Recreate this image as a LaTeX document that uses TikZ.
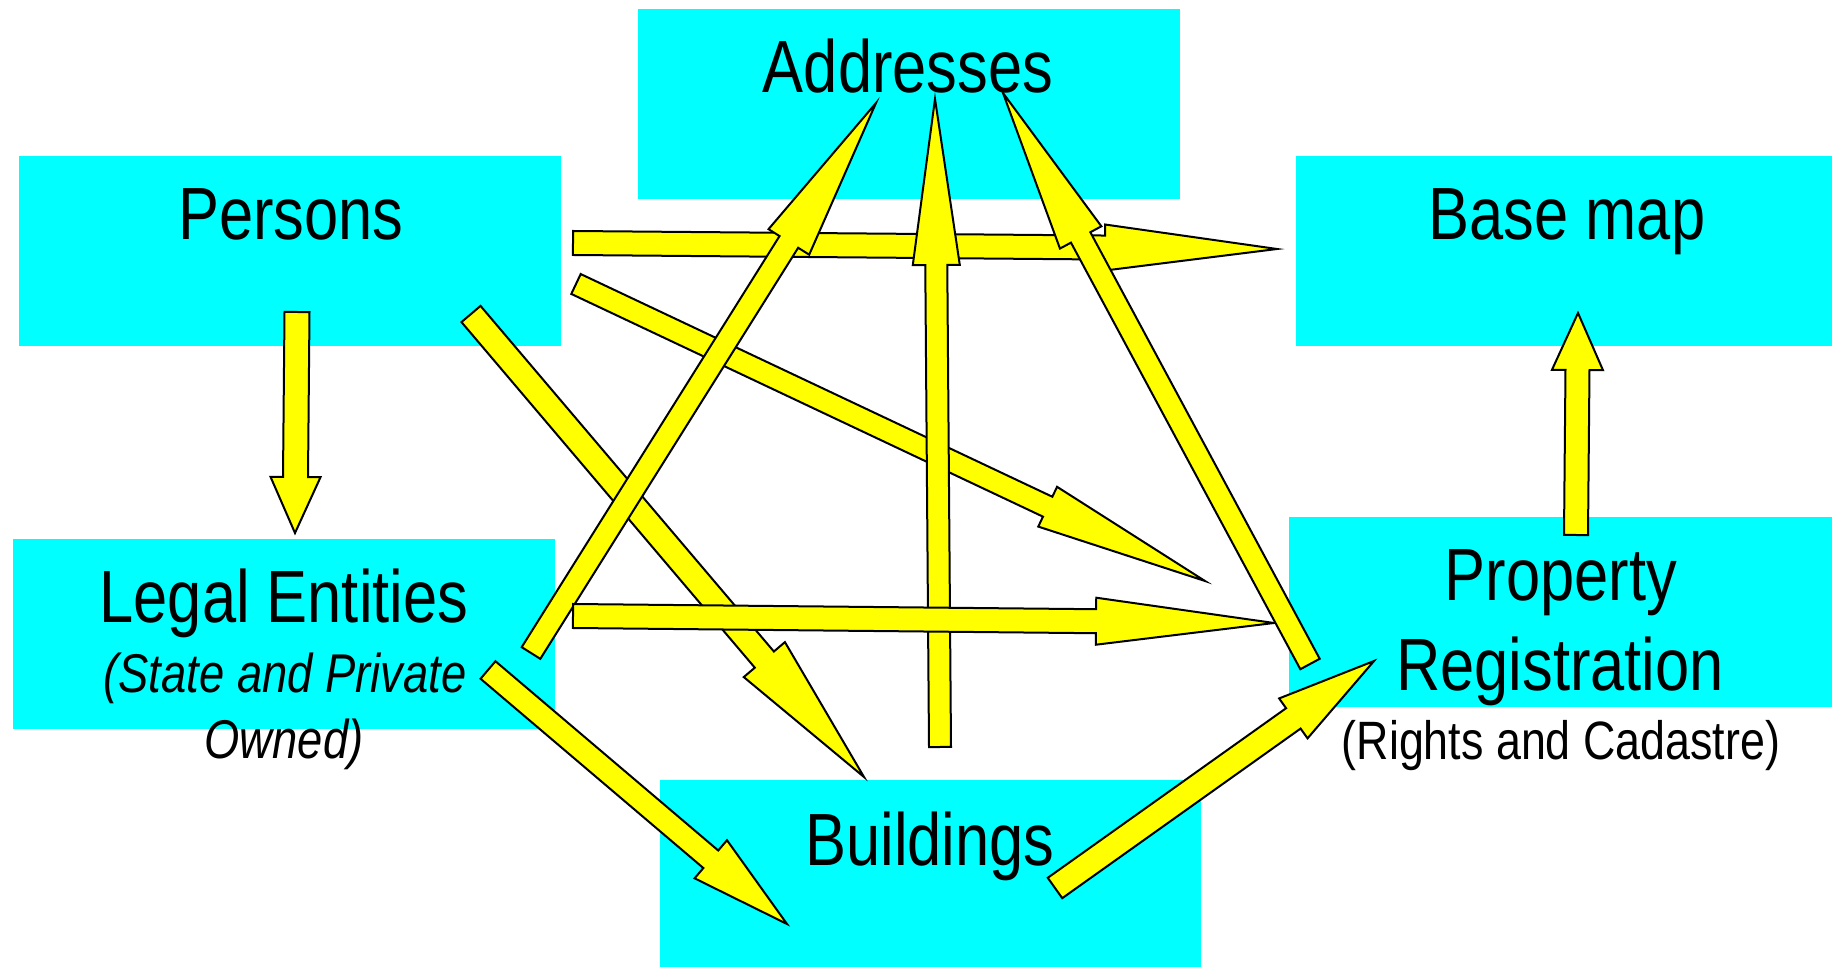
\documentclass[tikz,border=0pt]{standalone}
\usepackage{fontspec}
\setmainfont{Liberation Sans}[FakeStretch=0.83]
\usetikzlibrary{calc}
\definecolor{boxcyan}{HTML}{00FFFF}
\definecolor{arryellow}{HTML}{FFFF00}
\tikzset{
  box/.style={fill=boxcyan,draw=none,inner sep=0pt,anchor=north west},
  big/.style={font=\fontsize{37}{44}\selectfont,anchor=base,inner sep=0pt},
  small/.style={font=\fontsize{27}{32}\selectfont,anchor=base,inner sep=0pt},
  smallit/.style={font=\fontsize{27.3}{32}\selectfont\itshape,anchor=base,inner sep=0pt},
  blockarrow/.style={fill=arryellow,draw=black,line width=1pt,line join=miter},
}
% tail, tip, half shaft (pt), half head (pt), head length (pt)
\newcommand\barrow[5]{%
  \coordinate (hb) at ($(#2)!#5pt!(#1)$);
  \draw[blockarrow] ($(#1)!#3pt!90:(#2)$) -- ($(hb)!#3pt!90:(#2)$) -- ($(hb)!#4pt!90:(#2)$) -- (#2)
    -- ($(hb)!#4pt!-90:(#2)$) -- ($(hb)!#3pt!-90:(#2)$) -- ($(#1)!#3pt!-90:(#2)$) -- cycle;
}
\begin{document}
\begin{tikzpicture}[x=0.5pt,y=-0.5pt]
\useasboundingbox (0,0) rectangle (1832,967);
% boxes
\node[box,minimum width=271pt,minimum height=95pt] (addr) at (638,9) {};
\node[box,minimum width=271pt,minimum height=95pt] (pers) at (19,156) {};
\node[box,minimum width=268pt,minimum height=95pt] (base) at (1296,156) {};
\node[box,minimum width=271pt,minimum height=95pt] (legal) at (13,539) {};
\node[box,minimum width=270.5pt,minimum height=93.5pt] (build) at (660,780) {};
\node[box,minimum width=271.5pt,minimum height=95pt] (prop) at (1289,517) {};
% texts
\node[big] (taddr) at (908,93) {Addresses};
\node[big] (tpers) at (291,240) {Persons};
\node[big] (tbase) at (1567,240) {Base map};
\node[big] (tlegal) at (284,623) {Legal Entities};
\node[smallit] (tlegal2) at (285,693) {(State and Private};
\node[smallit] (tlegal3) at (284,758) {Owned)};
\node[big] (tbuild) at (930,865) {Buildings};
\node[big] (tprop) at (1561,601) {Property};
\node[big] (tprop2) at (1560,691) {Registration};
\node[small] (tprop3) at (1561,760) {(Rights and Cadastre)};
% arrow end points
\coordinate (a1t) at (297,312);  \coordinate (a1h) at (295,533);
\coordinate (a2t) at (573,243);  \coordinate (a2h) at (1277,249);
\coordinate (a3t) at (576,284);  \coordinate (a3h) at (1205,581);
\coordinate (a4t) at (471,314);  \coordinate (a4h) at (864,777);
\coordinate (a5t) at (531,653);  \coordinate (a5h) at (876,103);
\coordinate (a6t) at (488,670);  \coordinate (a6h) at (787,924);
\coordinate (a7t) at (573,616);  \coordinate (a7h) at (1274,623);
\coordinate (a8t) at (940,747);  \coordinate (a8h) at (935,99);
\coordinate (a9t) at (1310,664); \coordinate (a9h) at (1003,93);
\coordinate (a10t) at (1055,888); \coordinate (a10h) at (1374,661);
\coordinate (a11t) at (1576,535); \coordinate (a11h) at (1578,313);
% arrows (bottom to top)
\barrow{a2t}{a2h}{6}{11.5}{86}
\barrow{a3t}{a3h}{5.5}{11}{87}
\barrow{a4t}{a4h}{6.25}{13.5}{77}
\barrow{a8t}{a8h}{5.5}{11.75}{83}
\barrow{a5t}{a5h}{5.5}{12}{82}
\barrow{a7t}{a7h}{6}{11.75}{89}
\barrow{a9t}{a9h}{5.5}{11.75}{82}
\barrow{a1t}{a1h}{6.25}{12.5}{28}
\barrow{a6t}{a6h}{5.75}{12.5}{50}
\barrow{a10t}{a10h}{6.25}{12.25}{49.5}
\barrow{a11t}{a11h}{6}{12.75}{28.5}
\end{tikzpicture}
\end{document}
